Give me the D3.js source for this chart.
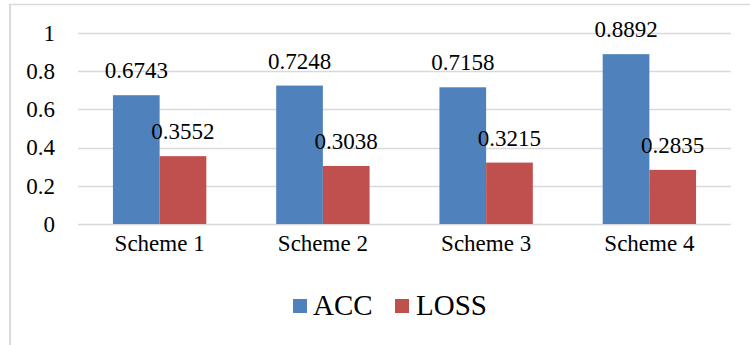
<!DOCTYPE html>
<html>
<head>
<meta charset="utf-8">
<script src="https://cdn.jsdelivr.net/npm/d3@7"></script>
<style>
  html, body { margin: 0; padding: 0; background: #fff; }
  svg { display: block; }
</style>
</head>
<body>
<svg id="chart" width="750" height="345"></svg>
<script>
// Data
const categories = ["Scheme 1", "Scheme 2", "Scheme 3", "Scheme 4"];
const seriesNames = ["ACC", "LOSS"];
const accValues = [0.6743, 0.7248, 0.7158, 0.8892];
const lossValues = [0.3552, 0.3038, 0.3215, 0.2835];
const yTicks = [0, 0.2, 0.4, 0.6, 0.8, 1];
const yTickLabels = ["0", "0.2", "0.4", "0.6", "0.8", "1"];

const FONT = '"Liberation Serif", "Times New Roman", serif';
const colors = { ACC: "#4F81BD", LOSS: "#C0504D" };
const rows = categories.map((c, i) => ({ cat: c, ACC: accValues[i], LOSS: lossValues[i] }));

const svg = d3.select("#chart");

// Chart frame (top and left edges visible)
svg.append("line").attr("x1", 10).attr("x2", 750).attr("y1", 4.5).attr("y2", 4.5)
  .attr("stroke", "#D9D9D9").attr("stroke-width", 1.5);
svg.append("line").attr("x1", 10).attr("x2", 10).attr("y1", 4).attr("y2", 345)
  .attr("stroke", "#D9D9D9").attr("stroke-width", 2);

const plot = { left: 78, right: 731, top: 33, bottom: 224 };

const x0 = d3.scaleBand().domain(categories).range([plot.left, plot.right]).paddingInner(0.428).paddingOuter(0.214);
const x1 = d3.scaleBand().domain(seriesNames).range([0, x0.bandwidth()]);
const y = d3.scaleLinear().domain([0, 1]).range([plot.bottom, plot.top]);

// Gridlines
svg.append("g").selectAll("line").data(yTicks).join("line")
  .attr("x1", plot.left).attr("x2", plot.right)
  .attr("y1", d => Math.round(y(d)) + 0.5).attr("y2", d => Math.round(y(d)) + 0.5)
  .attr("stroke", "#D9D9D9").attr("stroke-width", 1.5);

// Y axis labels
const yAxis = d3.axisLeft(y).tickValues(yTicks).tickSize(0).tickPadding(0)
  .tickFormat((d, i) => yTickLabels[i]);
const gy = svg.append("g").attr("transform", `translate(${plot.left - 23},0)`).call(yAxis)
  .attr("font-family", FONT).attr("font-size", 23);
gy.select(".domain").remove();
gy.selectAll("text").attr("fill", "#000");

// X axis labels
const xAxis = d3.axisBottom(x0).tickSize(0).tickPadding(0);
const gx = svg.append("g").attr("transform", `translate(0,${plot.bottom + 19})`).call(xAxis)
  .attr("font-family", FONT).attr("font-size", 23);
gx.select(".domain").remove();
gx.selectAll("text").attr("fill", "#000").attr("dy", "0.35em");

// Bars
const groups = svg.append("g").selectAll("g").data(rows).join("g")
  .attr("transform", d => `translate(${x0(d.cat)},0)`);

groups.selectAll("rect").data(d => seriesNames.map(k => ({ key: k, value: d[k] }))).join("rect")
  .attr("x", d => x1(d.key))
  .attr("width", x1.bandwidth())
  .attr("y", d => y(d.value))
  .attr("height", d => y(0) - y(d.value))
  .attr("fill", d => colors[d.key]);

// Value labels
groups.selectAll("text.val").data(d => seriesNames.map(k => ({ key: k, value: d[k] }))).join("text")
  .attr("class", "val")
  .attr("x", d => x1(d.key) + x1.bandwidth() / 2)
  .attr("y", d => y(d.value) - 17)
  .attr("text-anchor", "middle")
  .attr("font-family", FONT)
  .attr("font-size", 23)
  .attr("fill", "#000")
  .text(d => d3.format(".4f")(d.value));

// Legend
const legendItems = [
  { key: "ACC", sx: 293, tx: 313 },
  { key: "LOSS", sx: 395, tx: 416 }
];
const legend = svg.append("g").selectAll("g").data(legendItems).join("g");
legend.append("rect").attr("x", d => d.sx).attr("y", 299).attr("width", 14).attr("height", 14)
  .attr("fill", d => colors[d.key]);
legend.append("text").attr("x", d => d.tx).attr("y", 315)
  .attr("font-family", FONT).attr("font-size", 29).attr("fill", "#000")
  .text(d => d.key);
</script>
</body>
</html>
